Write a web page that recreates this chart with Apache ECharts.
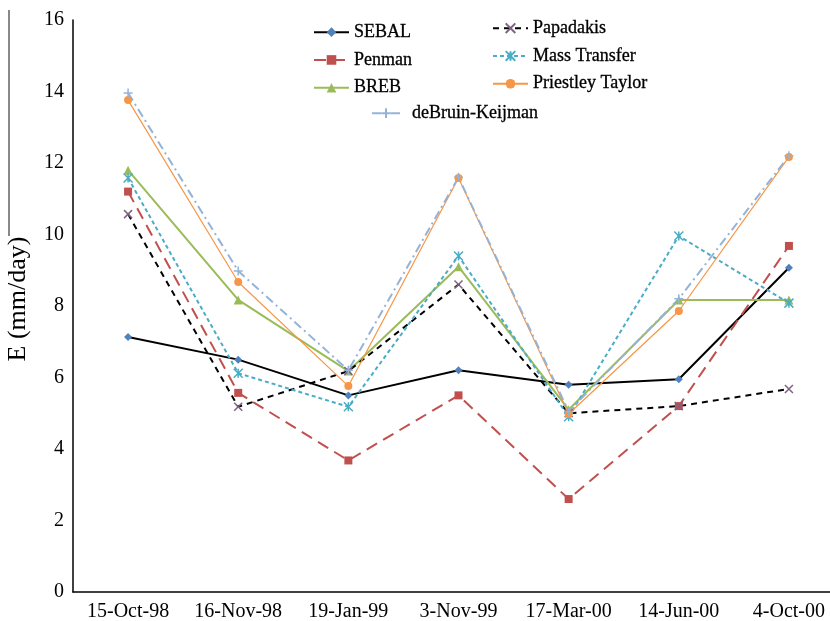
<!DOCTYPE html>
<html><head><meta charset="utf-8">
<script src="https://cdn.jsdelivr.net/npm/echarts@6/dist/echarts.min.js"></script>
<style>html,body{margin:0;padding:0;background:#fff}#c{width:830px;height:621px}</style>
</head><body><div id="c"></div>
<script>
var categories = ['15-Oct-98','16-Nov-98','19-Jan-99','3-Nov-99','17-Mar-00','14-Jun-00','4-Oct-00'];
var sebal      = [7.13, 6.5, 5.5, 6.2, 5.8, 5.95, 9.07];
var penman     = [11.2, 5.57, 3.68, 5.5, 2.6, 5.2, 9.68];
var breb       = [11.8, 8.17, 6.18, 9.1, 5.1, 8.17, 8.17];
var papadakis  = [10.57, 5.18, 6.18, 8.6, 5.0, 5.2, 5.68];
var massTr     = [11.58, 6.12, 5.18, 9.4, 4.9, 9.96, 8.08];
var priestley  = [13.76, 8.67, 5.76, 11.58, 4.98, 7.86, 12.17];
var debruin    = [13.96, 8.98, 6.2, 11.6, 5.05, 8.2, 12.2];
var yTicks = [0,2,4,6,8,10,12,14,16];

var chart = echarts.init(document.getElementById('c'));
var serif = '"Liberation Serif","Times New Roman",serif';
var X_PATH = 'path://M0,0L10,10M10,0L0,10';
var AST_PATH = 'path://M0,0L10,10M10,0L0,10M5,0L5,10';
var PLUS_PATH = 'path://M5,0L5,10M0,5L10,5';

function ser(name, data, color, mcolor, symbol, size, lineType, width, strokeSym) {
  var s = {
    name: name, type: 'line', data: data, symbol: symbol, symbolSize: size,
    lineStyle: {color: color, width: width, type: lineType},
    itemStyle: {color: mcolor},
    z: 3
  };
  if (strokeSym) {
    s.itemStyle = {color: 'rgba(0,0,0,0)', borderColor: mcolor, borderWidth: 1.5};
  }
  return s;
}

var legText = {fontFamily: serif, fontSize: 18, color: '#000', textBorderColor: '#000', textBorderWidth: 0.3};
var legBase = {orient: 'vertical', itemWidth: 35, itemHeight: 12, itemGap: 9.5, padding: 0, textStyle: legText};

chart.setOption({
  animation: false,
  backgroundColor: '#fff',
  grid: {left: 73, right: -14, top: 20, bottom: 29, containLabel: false, outerBoundsMode: 'none'},
  xAxis: {
    type: 'category', data: categories, boundaryGap: true,
    axisLine: {lineStyle: {color: '#000', width: 1.5}},
    axisTick: {show: false},
    axisLabel: {fontFamily: serif, fontSize: 20, color: '#000', margin: 10, interval: 0}
  },
  yAxis: {
    type: 'value', min: yTicks[0], max: yTicks[yTicks.length-1], interval: 2,
    name: 'E (mm/day)', nameLocation: 'middle', nameGap: 42, nameRotate: 90,
    nameTextStyle: {fontFamily: serif, fontSize: 26, color: '#000', padding: [0, 0, 0, 14]},
    axisLine: {show: true, lineStyle: {color: '#000', width: 1.5}},
    axisTick: {show: false},
    splitLine: {show: false},
    axisLabel: {fontFamily: serif, fontSize: 20, color: '#000', margin: 9}
  },
  legend: [
    Object.assign({}, legBase, {left: 313, top: 23, data: ['SEBAL','Penman','BREB']}),
    Object.assign({}, legBase, {left: 492, top: 19, data: ['Papadakis','Mass Transfer','Priestley Taylor']}),
    Object.assign({}, legBase, {left: 371, top: 104, itemWidth: 28, data: ['deBruin-Keijman'],
      textStyle: Object.assign({}, legText, {padding: [0, 0, 0, 7]})})
  ],
  graphic: [{type: 'line', shape: {x1: 9, y1: 10, x2: 9, y2: 236}, style: {stroke: '#888', lineWidth: 2}}],
  series: [
    ser('SEBAL', sebal, '#000', '#4F81BD', 'diamond', 8, 'solid', 2),
    ser('Penman', penman, '#C0504D', '#C0504D', 'rect', 8, [12, 7], 2),
    ser('BREB', breb, '#9BBB59', '#9BBB59', 'triangle', 9, 'solid', 2),
    ser('Papadakis', papadakis, '#000', '#7F6084', X_PATH, 8, [6, 5], 2, true),
    ser('Mass Transfer', massTr, '#4BACC6', '#4BACC6', AST_PATH, 9, [4, 3], 2, true),
    ser('Priestley Taylor', priestley, '#F79646', '#F79646', 'circle', 8, 'solid', 1.2),
    ser('deBruin-Keijman', debruin, '#95B3D7', '#95B3D7', PLUS_PATH, 9, [9, 4, 2, 4], 2, true)
  ]
});
</script></body></html>
